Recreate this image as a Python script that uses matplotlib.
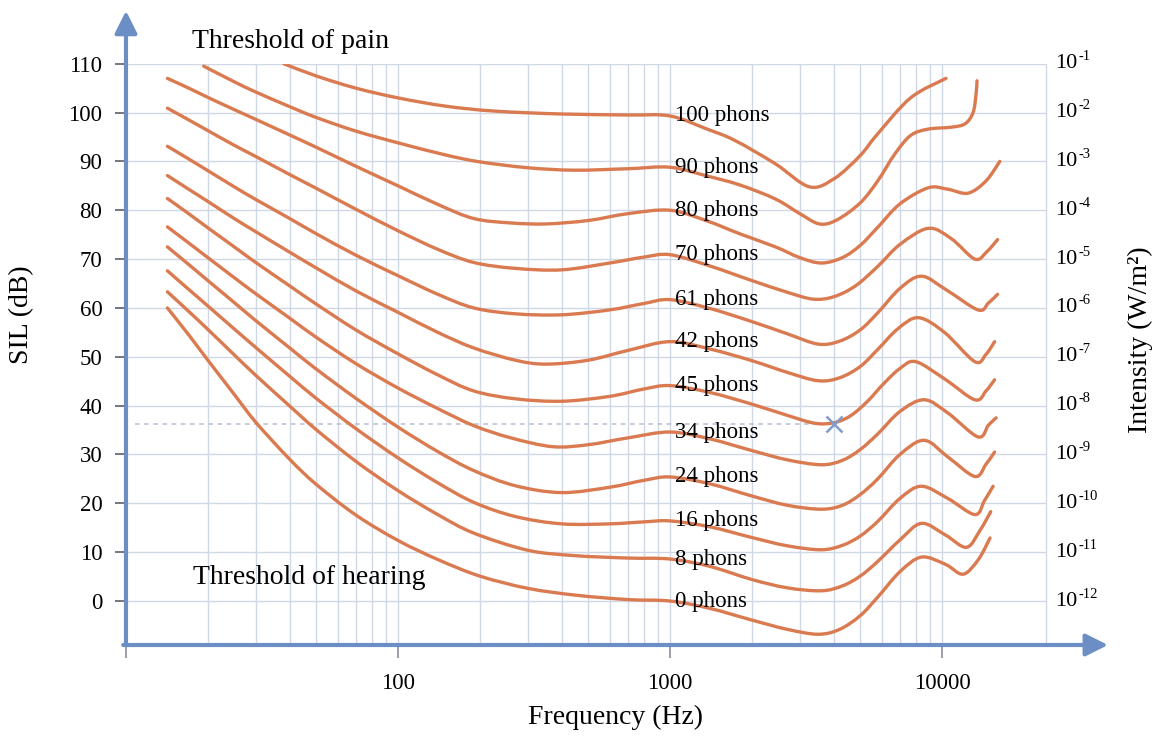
import numpy as np
import matplotlib
matplotlib.use('Agg')
import matplotlib.pyplot as plt
from matplotlib.path import Path
from matplotlib.patches import PathPatch
from matplotlib.ticker import FixedLocator, NullFormatter

plt.rcParams['font.family'] = ['Liberation Serif', 'DejaVu Serif']

# ---- data (frequency in Hz, level in dB) ----
labels = ['100 phons', '90 phons', '80 phons', '70 phons', '61 phons', '42 phons',
          '45 phons', '34 phons', '24 phons', '16 phons', '8 phons', '0 phons']

f_100 = [38, 50, 70, 100, 150, 226, 400, 700, 1000, 1370, 1730, 2440, 3250, 4020, 5000, 5770, 7660, 10340]
l_100 = [110, 107.5, 105, 103, 101.3, 100.3, 99.7, 99.5, 99.3, 96.6, 94.3, 89.5, 84.8, 86.5, 91.2, 95.5, 103, 107]

f_90 = [19.3, 25, 30, 40, 50, 70, 100, 150, 200, 300, 445, 700, 1000, 1370, 1800, 2440, 3000, 3540, 4100,
        5000, 5800, 6700, 7660, 8870, 10800, 12150, 13000, 13330, 13440]
l_90 = [109.5, 106.3, 104.2, 101.2, 99, 96.2, 93.8, 91.3, 89.9, 88.7, 88.2, 88.5, 88.8, 87, 85.2, 82.3, 79.3,
        77.2, 78, 81.5, 86, 91.5, 95.3, 96.6, 97, 97.7, 100, 103.7, 106.5]

f_80 = [14.2, 17, 20, 25, 30, 40, 50, 70, 100, 140, 190, 260, 350, 500, 700, 1000, 1370, 1800, 2440, 3000,
        3600, 4300, 5000, 5800, 7000, 8900, 10500, 12460, 14500, 16300]
l_80 = [107, 105, 103.1, 100.6, 98.6, 95.4, 92.9, 89, 85, 81.2, 78.3, 77.4, 77.2, 77.9, 79.3, 80, 77.8, 75.2,
        72.5, 70.3, 69.2, 70.3, 72.8, 76.5, 81.3, 84.6, 84.3, 83.5, 86, 90]

f_70 = [14.2, 17, 20, 25, 30, 40, 50, 70, 100, 140, 190, 270, 400, 600, 800, 1000, 1400, 2000, 2700, 3360,
        4000, 4800, 5800, 7000, 8900, 10800, 13200, 14600, 16000]
l_70 = [100.9, 98.5, 96.3, 93.3, 91, 87.3, 84.5, 80.2, 75.8, 72, 69.3, 68.1, 67.8, 69.2, 70.4, 70.9, 68.6, 65.6,
        63.2, 61.8, 62.3, 64.5, 68.5, 73, 76.3, 74.2, 70, 71.5, 74]

f_61 = [14.2, 17, 20, 25, 30, 40, 50, 70, 100, 140, 190, 270, 400, 600, 800, 1000, 1400, 2000, 2700, 3500,
        4200, 5000, 5800, 7000, 8400, 10300, 13560, 14800, 16000]
l_61 = [93.1, 90.5, 88.1, 84.8, 82.2, 78.3, 75.2, 70.8, 66.6, 62.8, 60, 58.8, 58.6, 59.6, 60.9, 61.7, 59.9, 57.2,
        54.7, 52.6, 53.2, 55.5, 59, 64, 66.5, 63.8, 59.6, 61, 62.8]

f_42 = [14.2, 17, 20, 25, 30, 40, 50, 70, 100, 140, 190, 270, 350, 500, 700, 1000, 1400, 2000, 2700, 3500,
        4200, 5000, 5800, 6900, 8200, 10200, 13200, 14500, 15600]
l_42 = [87.1, 84.3, 81.8, 78.3, 75.6, 71.4, 68.2, 63.5, 59.1, 55, 51.8, 49.3, 48.5, 49.3, 51.3, 53.1, 51.6, 49.2,
        46.8, 45.1, 45.7, 48, 51.5, 55.8, 58, 55, 49, 50.5, 53.1]

f_45 = [14.2, 17, 20, 25, 30, 40, 50, 70, 100, 140, 190, 270, 400, 600, 800, 1000, 1400, 2000, 2700, 3400,
        4000, 4600, 5300, 6100, 7000, 8000, 10200, 13200, 14500, 15600]
l_45 = [82.4, 79.3, 76.4, 72.5, 69.3, 64.5, 60.8, 55.5, 50.6, 46.3, 43, 41.4, 40.9, 41.9, 43.4, 44.1, 42.7, 40.3,
        38, 36.4, 36.5, 37.9, 40.8, 44.5, 47.6, 49, 45.5, 41.2, 43, 45.3]

f_34 = [14.2, 17, 20, 25, 30, 40, 50, 70, 100, 140, 190, 260, 370, 500, 700, 1000, 1400, 2000, 2700, 3600,
        4300, 5000, 5800, 7000, 8600, 10500, 13560, 14800, 15800]
l_34 = [76.6, 73.3, 70.3, 66.2, 62.9, 57.9, 54, 48.6, 43.6, 39.4, 35.9, 33.4, 31.6, 32, 33.4, 34.6, 33.2, 30.8,
        28.9, 27.9, 28.8, 31, 34.2, 38.8, 41.2, 38.5, 33.6, 36, 37.5]

f_24 = [14.2, 17, 20, 25, 30, 40, 50, 70, 100, 140, 190, 270, 400, 600, 800, 1000, 1400, 2000, 2700, 3600,
        4300, 5000, 5800, 7000, 8600, 10500, 13200, 14500, 15600]
l_24 = [72.5, 68.9, 65.6, 61.1, 57.4, 51.8, 47.5, 41.5, 35.6, 30.6, 26.7, 23.6, 22.2, 23.3, 24.7, 25.4, 24, 21.5,
        19.6, 18.8, 19.6, 21.8, 25, 30, 32.9, 29.5, 25.5, 28, 30.5]

f_16 = [14.2, 17, 20, 25, 30, 40, 50, 70, 100, 140, 190, 270, 400, 600, 800, 1000, 1400, 2000, 2700, 3600,
        4300, 5000, 5800, 7000, 8400, 10500, 13200, 14300, 15400]
l_16 = [67.6, 63.8, 60.4, 55.7, 51.9, 46, 41.5, 35.3, 29.3, 24.2, 20.2, 17.3, 15.8, 15.8, 16.2, 16.4, 15.2, 13,
        11.3, 10.5, 11.4, 13.3, 16.3, 21, 23.5, 21, 17.7, 20.5, 23.5]

f_8 = [14.2, 17, 20, 25, 30, 40, 50, 70, 100, 140, 190, 300, 445, 700, 1000, 1400, 2000, 2700, 3600,
       4300, 5000, 5800, 7000, 8400, 10300, 12300, 13800, 15100]
l_8 = [63.3, 59.3, 55.6, 50.4, 46.2, 39.9, 35.1, 28.6, 22.6, 17.7, 13.9, 10.4, 9.3, 8.8, 8.6, 7.1, 4.4, 2.7, 2.1,
       3.1, 5.1, 8.1, 12.5, 15.9, 13.5, 11, 14.5, 18.3]

f_0 = [14.2, 17, 20, 25, 30, 40, 50, 70, 100, 140, 200, 300, 450, 700, 1000, 1400, 2000, 2700, 3500,
       4200, 5000, 5800, 7000, 8400, 10300, 11950, 13600, 15000]
l_0 = [60, 54.5, 49.3, 42.3, 36.6, 29, 23.9, 17.6, 12.4, 8.5, 5.1, 2.6, 1.2, 0.3, 0, -1.5, -3.9, -5.8, -6.8,
       -5.8, -3, 0.8, 6, 9, 7.5, 5.5, 8.5, 12.9]

freqs = [f_100, f_90, f_80, f_70, f_61, f_42, f_45, f_34, f_24, f_16, f_8, f_0]
levels = [l_100, l_90, l_80, l_70, l_61, l_42, l_45, l_34, l_24, l_16, l_8, l_0]

db_ticks = list(range(0, 111, 10))
intensity_exp = ['-%d' % n for n in range(12, 0, -1)]
x_major = [10, 100, 1000, 10000]
x_major_labels = ['', '100', '1000', '10000']
x_minor = [m * d for d in (10, 100, 1000) for m in range(2, 10)]

marker_f, marker_db = 4000, 36.3

# ---- styling ----
axis_blue = '#6b8fc4'
curve_col = '#da7a50'
grid_col = '#d0d8e6'


def smooth_path(f, l):
    # smoothed line like a spreadsheet chart: cubic bezier through the points (log-x space)
    x = np.log10(f)
    y = np.asarray(l, dtype=float)
    px = np.r_[x[0], x, x[-1]]
    py = np.r_[y[0], y, y[-1]]
    verts = [(f[0], y[0])]
    codes = [Path.MOVETO]
    for i in range(1, len(px) - 2):
        c1 = (px[i] + (px[i + 1] - px[i - 1]) / 6, py[i] + (py[i + 1] - py[i - 1]) / 6)
        c2 = (px[i + 1] - (px[i + 2] - px[i]) / 6, py[i + 1] - (py[i + 2] - py[i]) / 6)
        verts += [(10 ** c1[0], c1[1]), (10 ** c2[0], c2[1]), (10 ** px[i + 1], py[i + 1])]
        codes += [Path.CURVE4] * 3
    return Path(verts, codes)


fig = plt.figure(figsize=(11.55, 7.36), dpi=100)
ax = fig.add_axes([126 / 1155, 1 - 645 / 736, 919.5 / 1155, 581.3 / 736])
ax.set_xscale('log')
ax.set_xlim(10, 24000)
ax.set_ylim(-9, 110)

ax.xaxis.set_major_locator(FixedLocator(x_major))
ax.xaxis.set_minor_locator(FixedLocator(x_minor))
ax.xaxis.set_minor_formatter(NullFormatter())
ax.set_xticklabels(x_major_labels)
ax.set_yticks(db_ticks)

ax.grid(True, which='both', axis='x', color=grid_col, lw=1.0, zorder=0)
ax.grid(True, which='major', axis='y', color=grid_col, lw=1.0, zorder=0)
ax.set_axisbelow(True)

for s in ['top', 'left', 'bottom']:
    ax.spines[s].set_visible(False)
ax.spines['right'].set_color(grid_col)
ax.spines['right'].set_linewidth(1.0)

ax.tick_params(axis='x', which='major', direction='out', length=9, width=1.2, color='#8a8f99',
               labelsize=16.5, pad=11)
ax.tick_params(axis='x', which='minor', length=0)
ax.tick_params(axis='y', direction='out', length=8, width=1.2, color='#5a5f69', labelsize=16.5, pad=9,
               right=False)

# right side intensity labels: "10" with a small raised exponent
for yv, ex in zip(db_ticks, intensity_exp):
    ax.annotate('10', xy=(1, yv), xycoords=('axes fraction', 'data'), xytext=(7, 0),
                textcoords='offset points', ha='left', va='center', fontsize=16, annotation_clip=False)
    ax.annotate(ex, xy=(1, yv), xycoords=('axes fraction', 'data'), xytext=(23.5, 5),
                textcoords='offset points', ha='left', va='center', fontsize=10.5, annotation_clip=False)

# curves
for f, l in zip(freqs, levels):
    ax.add_patch(PathPatch(smooth_path(f, l), fill=False, edgecolor=curve_col, lw=2.4,
                           capstyle='round', zorder=3))

for lab, f, l in zip(labels, freqs, levels):
    y1k = l[f.index(1000)]
    ax.text(1040, y1k, lab, fontsize=16.5, ha='left', va='center', zorder=5)

# dashed reference line and marker
ax.plot([10.8, marker_f], [marker_db, marker_db], color='#b4bfd2', lw=1.1, ls=(0, (3, 3)), zorder=2)
ax.plot(marker_f, marker_db, marker='x', ms=12, mew=1.8, color='#7f9ccb', zorder=6)

# axis arrows
ax.annotate('', xy=(0, 1.091), xytext=(0, 0), xycoords='axes fraction', textcoords='axes fraction',
            arrowprops=dict(arrowstyle='-|>,head_length=0.9,head_width=0.45', color=axis_blue, lw=3,
                            shrinkA=0, shrinkB=0, mutation_scale=15), annotation_clip=False)
ax.annotate('', xy=(1.068, 0), xytext=(-0.003, 0), xycoords='axes fraction', textcoords='axes fraction',
            arrowprops=dict(arrowstyle='-|>,head_length=0.9,head_width=0.45', color=axis_blue, lw=3,
                            shrinkA=0, shrinkB=0, mutation_scale=15), annotation_clip=False)

# titles / labels
fig.text(22 / 1155, 1 - 315 / 736, 'SIL (dB)', rotation=90, ha='center', va='center', fontsize=20)
fig.text(616 / 1155, 1 - 717 / 736, 'Frequency (Hz)', ha='center', va='center', fontsize=20)
fig.text(1140 / 1155, 1 - 340 / 736, 'Intensity (W/m²)', rotation=90, ha='center', va='center',
         fontsize=20)
fig.text(192 / 1155, 1 - 41 / 736, 'Threshold of pain', ha='left', va='center', fontsize=20)
fig.text(193 / 1155, 1 - 578 / 736, 'Threshold of hearing', ha='left', va='center', fontsize=20)

fig.savefig('out.png', dpi=100)
